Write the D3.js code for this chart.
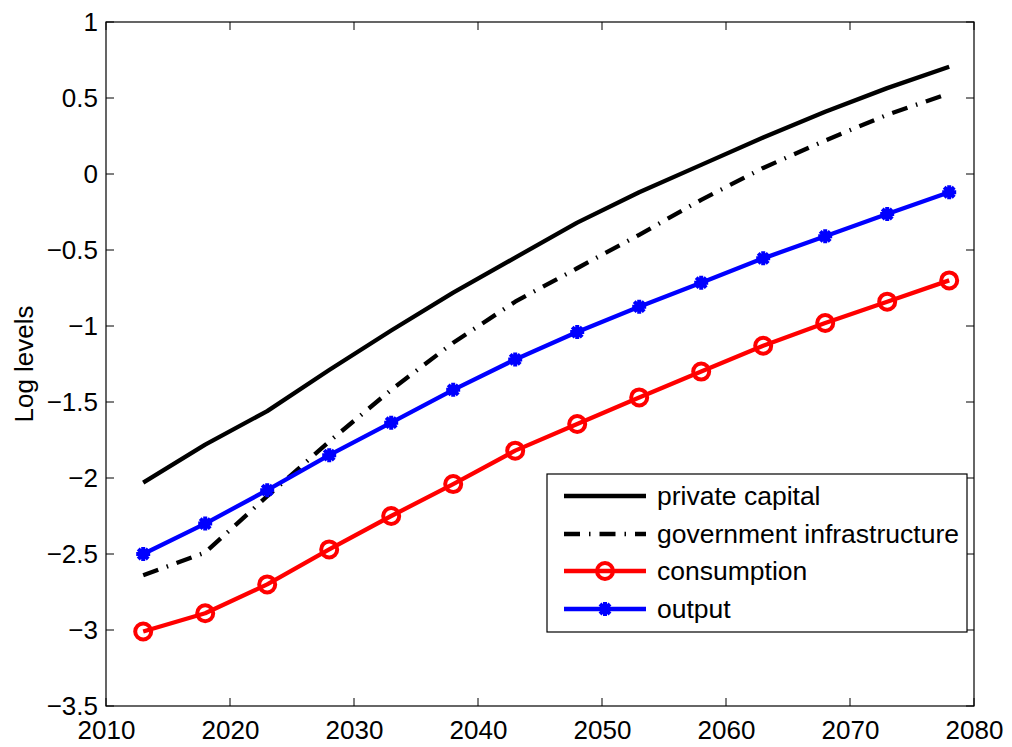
<!DOCTYPE html>
<html><head><meta charset="utf-8">
<script src="https://cdn.jsdelivr.net/npm/d3@7"></script>
<style>body{margin:0;background:#fff}svg{display:block}text{font-family:"Liberation Sans",Arial,sans-serif}</style>
</head><body>
<script>
const years = [2013,2018,2023,2028,2033,2038,2043,2048,2053,2058,2063,2068,2073,2078];
const privateCapital = [-2.03,-1.78,-1.56,-1.29,-1.03,-0.78,-0.55,-0.32,-0.12,0.06,0.24,0.41,0.565,0.705];
const govInfra = [-2.64,-2.49,-2.12,-1.76,-1.42,-1.11,-0.84,-0.62,-0.40,-0.17,0.04,0.22,0.39,0.53];
const consumption = [-3.01,-2.89,-2.70,-2.47,-2.25,-2.04,-1.82,-1.645,-1.47,-1.30,-1.13,-0.98,-0.84,-0.70];
const output = [-2.50,-2.30,-2.08,-1.85,-1.636,-1.42,-1.22,-1.04,-0.873,-0.715,-0.555,-0.41,-0.263,-0.12];
const xTicks = [2010,2020,2030,2040,2050,2060,2070,2080];
const yTicks = [1,0.5,0,-0.5,-1,-1.5,-2,-2.5,-3,-3.5];
const legendLabels = ["private capital","government infrastructure","consumption","output"];

const W=1012,H=747;
const L=106,R=974,T=22,B=706;
const svg=d3.select("body").append("svg").attr("width",W).attr("height",H);
const x=d3.scaleLinear().domain([2010,2080]).range([L,R]);
const y=d3.scaleLinear().domain([-3.5,1]).range([B,T]);
const fmt=d=>String(d).replace("-","\u2212");

const ax=svg.append("g");
ax.append("g").attr("transform",`translate(0,${B})`).call(d3.axisBottom(x).tickValues(xTicks).tickSize(0).tickPadding(15).tickFormat(d=>d));
ax.append("g").attr("transform",`translate(${L},0)`).call(d3.axisLeft(y).tickValues(yTicks).tickSize(0).tickPadding(8).tickFormat(fmt));
ax.selectAll(".domain").remove();
ax.selectAll("text").attr("font-size",26).attr("fill","#000").attr("font-family","Liberation Sans, Arial, sans-serif");
const tk=svg.append("g").attr("stroke","#000").attr("stroke-width",1);
xTicks.forEach(t=>{tk.append("line").attr("x1",x(t)).attr("x2",x(t)).attr("y1",B).attr("y2",B-8);
  tk.append("line").attr("x1",x(t)).attr("x2",x(t)).attr("y1",T).attr("y2",T+8);});
yTicks.forEach(t=>{tk.append("line").attr("y1",y(t)).attr("y2",y(t)).attr("x1",L).attr("x2",L+8);
  tk.append("line").attr("y1",y(t)).attr("y2",y(t)).attr("x1",R).attr("x2",R-8);});
svg.append("rect").attr("x",L).attr("y",T).attr("width",R-L).attr("height",B-T).attr("fill","none").attr("stroke","#000").attr("stroke-width",1.2);

svg.append("text").attr("transform",`translate(33,${(T+B)/2}) rotate(-90)`).attr("text-anchor","middle").attr("font-size",26).text("Log levels");

const line=d3.line().x((d,i)=>x(years[i])).y(d=>y(d));
const series=[
 {v:privateCapital,c:"#000",dash:null,m:null},
 {v:govInfra,c:"#000",dash:"16,9,1.5,9",m:null},
 {v:consumption,c:"#ff0000",dash:null,m:"o"},
 {v:output,c:"#0000ff",dash:null,m:"*"}
];
const g=svg.append("g");
function marker(sel,type,c,cx,cy){
  if(type==="o") sel.append("circle").attr("cx",cx).attr("cy",cy).attr("r",8).attr("fill","none").attr("stroke",c).attr("stroke-width",4);
  if(type==="*"){
    const a=7,b=5;
    sel.append("path").attr("d",`M${cx-a},${cy}H${cx+a}M${cx},${cy-a}V${cy+a}M${cx-b},${cy-b}L${cx+b},${cy+b}M${cx-b},${cy+b}L${cx+b},${cy-b}`)
      .attr("stroke",c).attr("stroke-width",4).attr("fill","none");
  }
}
series.forEach(s=>{
  const p=g.append("path").datum(s.v).attr("d",line).attr("fill","none").attr("stroke",s.c).attr("stroke-width",4.3).attr("stroke-linejoin","round");
  if(s.dash) p.attr("stroke-dasharray",s.dash);
  if(s.m) s.v.forEach((d,i)=>marker(g,s.m,s.c,x(years[i]),y(d)));
});

const lg=svg.append("g");
lg.append("rect").attr("x",547).attr("y",474).attr("width",420).attr("height",158).attr("fill","#fff").attr("stroke","#000").attr("stroke-width",1.2);
const rows=[496,534,571,609];
series.forEach((s,i)=>{
  const ln=lg.append("line").attr("x1",564).attr("x2",646).attr("y1",rows[i]).attr("y2",rows[i]).attr("stroke",s.c).attr("stroke-width",4.3);
  if(s.dash) ln.attr("stroke-dasharray",s.dash);
  if(s.m) marker(lg,s.m,s.c,605,rows[i]);
  lg.append("text").attr("x",657).attr("y",rows[i]).attr("dy","0.35em").attr("font-size",26.5).text(legendLabels[i]);
});
</script>
</body></html>
